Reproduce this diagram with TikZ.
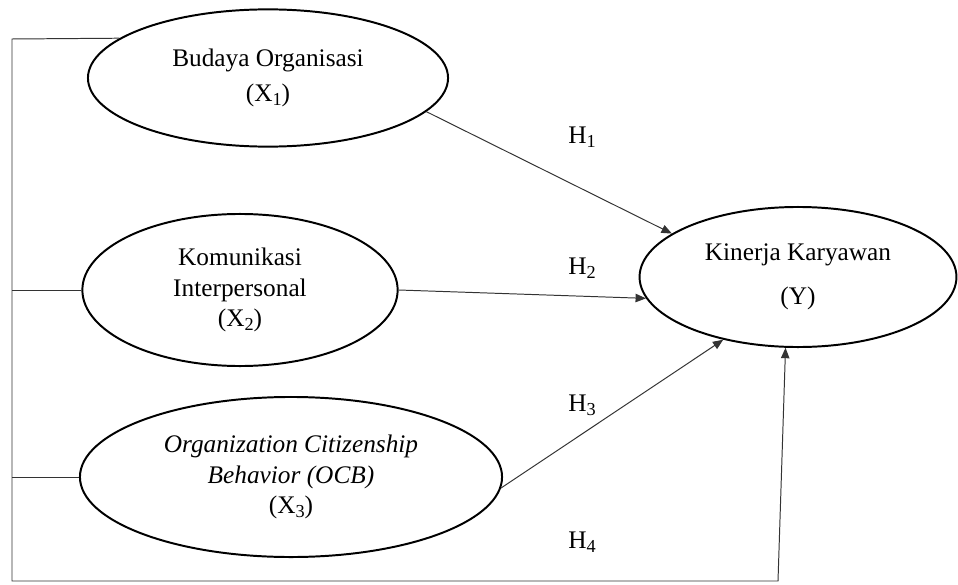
\documentclass[tikz,border=0pt]{standalone}
\usepackage{fontspec}
\setmainfont{Liberation Serif}
\usepackage{tikz}
\usetikzlibrary{shapes.geometric, arrows.meta, positioning, calc}
\newcommand{\lowidx}[1]{\raisebox{-0.32ex}{\fontsize{13}{13}\selectfont\upshape #1}}
\tikzset{
  var/.style={ellipse, draw=black, line width=1.4pt, inner sep=0pt, align=center,
              font=\fontsize{18}{21.6}\selectfont},
  link/.style={line width=0.7pt, draw=black!80},
  flow/.style={link, -{Triangle[length=2.6mm, width=2.1mm]}},
  hyp/.style={font=\fontsize{18}{21.6}\selectfont},
}
\begin{document}
\begin{tikzpicture}[x=0.025cm, y=-0.025cm]
  \useasboundingbox (0,0) rectangle (958,584);
  % variables
  \node[var, minimum width=9cm, minimum height=3.43cm] (budaya) at (268,78)
    {Budaya Organisasi\\[3pt](X\lowidx{1})};
  \node[var, minimum width=7.88cm, minimum height=3.8cm] (komunikasi) at (240,290)
    {Komunikasi\\Interpersonal\\(X\lowidx{2})};
  \node[var, minimum width=10.55cm, minimum height=4cm] (ocb) at (291,477)
    {\itshape Organization Citizenship\\\itshape Behavior (OCB)\\(X\lowidx{3})};
  \node[var, minimum width=7.92cm, minimum height=3.5cm] (kinerja) at (798,277)
    {Kinerja Karyawan\\[10pt](Y)};
  % outer frame on the left
  \coordinate (tl) at (12,39);
  \coordinate (bl) at (12,581);
  \coordinate (br) at (778,581);
  \draw[link] (komunikasi.west) -- (komunikasi.west -| tl);
  \draw[link] (ocb.west) -- (ocb.west -| tl);
  % hypotheses
  \draw[flow] (budaya.-12) -- (kinerja.161);
  \draw[flow] (komunikasi.east) -- (kinerja.188);
  \draw[flow] (ocb.-3) -- (kinerja.220);
  \draw[flow] (budaya.165) -- (tl) -- (bl) -- (br) -- (kinerja.260);
  \node[hyp] (h1) at (582,137) {H\lowidx{1}};
  \node[hyp] (h2) at (582,268) {H\lowidx{2}};
  \node[hyp] (h3) at (582,405) {H\lowidx{3}};
  \node[hyp] (h4) at (582,542) {H\lowidx{4}};
\end{tikzpicture}
\end{document}
